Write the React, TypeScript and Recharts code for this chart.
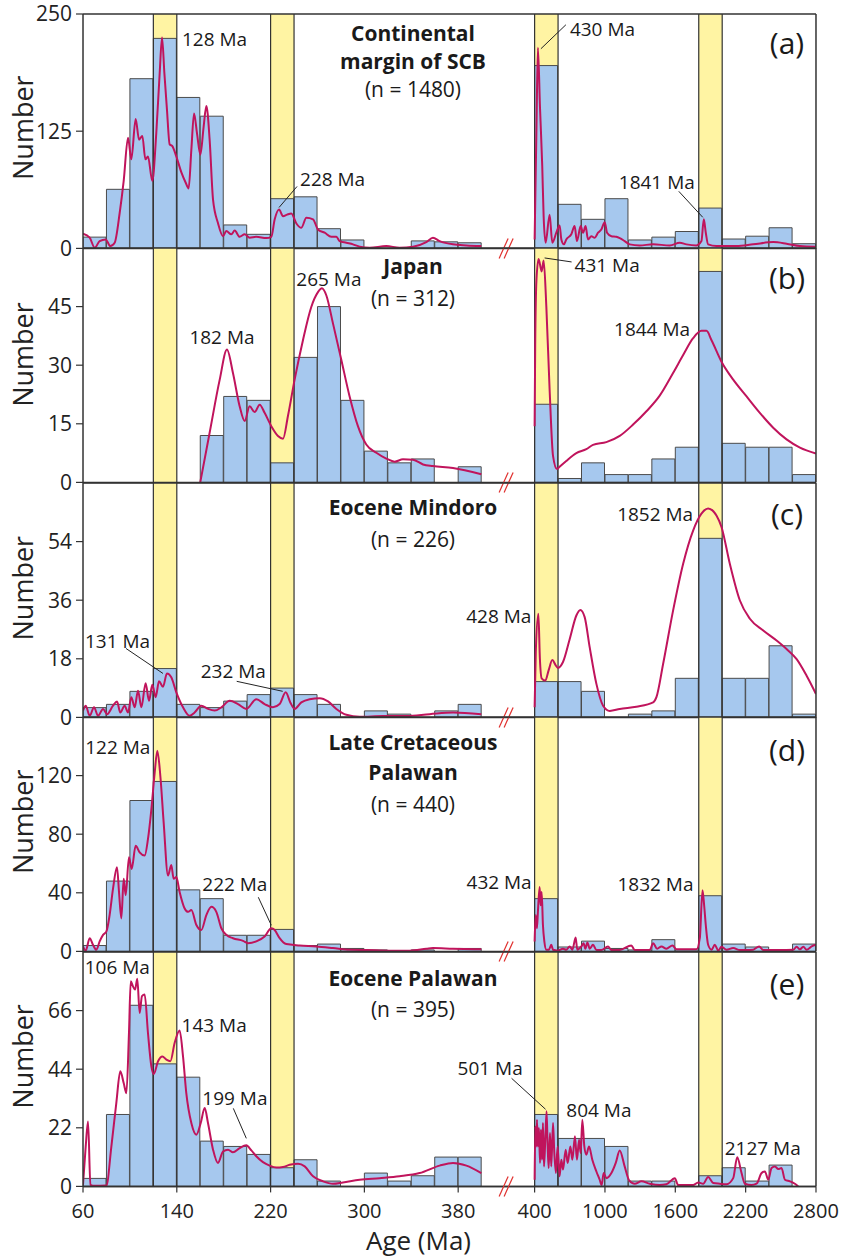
import React from 'react';
import {
  ComposedChart,
  Bar,
  Line,
  XAxis,
  YAxis,
  ReferenceArea,
  ReferenceLine,
  ReferenceDot,
} from 'recharts';

// ---------------- data ----------------
const leftBinStarts = [60, 80, 100, 120, 140, 160, 180, 200, 220, 240, 260, 280, 300, 320, 340, 360, 380];
const leftBinWidth = 20;
const rightBinStarts = [400, 600, 800, 1000, 1200, 1400, 1600, 1800, 2000, 2200, 2400, 2600];
const rightBinWidth = 200;

const xTickAgesLeft = [60, 140, 220, 300, 380];
const xTickAgesRight = [400, 1000, 1600, 2200, 2800];
const xTickLabels = ['60', '140', '220', '300', '380', '400', '1000', '1600', '2200', '2800'];

const highlightLeft = [[120, 140], [220, 240]];
const highlightRight = [[400, 600], [1800, 2000]];

// histogram counts
const countsA_L = [12, 63, 181, 224, 161, 141, 25, 15, 53, 55, 21, 9, 0, 0, 8, 7, 6];
const countsA_R = [195, 47, 31, 53, 9, 12, 18, 43, 10, 13, 22, 5];
const countsB_L = [0, 0, 0, 0, 0, 12, 22, 21, 5, 32, 45, 21, 8, 5, 6, 0, 4];
const countsB_R = [20, 1, 5, 2, 2, 6, 9, 54, 10, 9, 9, 2];
const countsC_L = [3, 4, 8, 15, 4, 3, 5, 7, 9, 7, 4, 0, 2, 1, 0, 2, 4];
const countsC_R = [11, 11, 8, 0, 1, 2, 12, 55, 12, 12, 22, 1];
const countsD_L = [4, 48, 103, 116, 42, 36, 11, 11, 15, 4, 5, 2, 1, 0, 1, 0, 2];
const countsD_R = [36, 3, 7, 2, 1, 8, 1, 38, 5, 3, 1, 5];
const countsE_L = [3, 27, 68, 46, 41, 17, 15, 12, 7, 10, 2, 0, 5, 2, 4, 11, 11];
const countsE_R = [27, 18, 18, 15, 2, 2, 0, 4, 7, 2, 8, 0];

// probability density curves [age, value]
const curveA_L = [[60,15.6],[65.7,11.4],[70,0.7],[74.2,7.8],[79.3,9.6],[83.3,2.5],[87,6],[91.3,38],[94.7,72],[98.4,118],[101.2,95],[104.9,138],[107.8,116],[110.6,120],[113.2,95],[115.4,98],[119.1,72],[122.5,123],[125.4,187],[127.4,225],[129.4,187],[131.6,148],[133.9,111],[136.2,109],[139.6,98],[143.9,81],[147.6,70],[150.1,64],[152.4,105],[154.7,144],[157.2,123],[160.1,100],[162.9,130],[165.2,152],[168,116],[170.9,52],[175.1,27],[179.4,13],[182.2,18.5],[186.5,15],[189.4,19],[193.6,12.4],[197.9,15],[202.1,11.4],[207.8,12.4],[216.4,11],[220.6,12.4],[223.5,31],[227.2,41.5],[230.6,34.4],[234,36],[237.7,37.3],[242,26.6],[246.2,22],[250.5,32.7],[256.2,31],[260.4,20.2],[266.1,16.7],[271.8,12.4],[276.1,12.4],[278.9,7.8],[284.6,6],[290.3,4.3],[296,1.8],[304.5,0.7],[318.7,2.5],[330,0.7],[341.5,1.8],[352.8,6.7],[358.5,11.4],[364.2,7.8],[375.6,4.3],[387,3.2],[399.7,2.5]];
const curveA_R = [[400,9.6],[416,130],[428,214],[446,150],[465,88],[477,34],[494,6],[528,36],[551,6],[585,16.7],[613,24.5],[628,9.6],[650,4.3],[670,9.6],[713,15],[741,23.8],[761,7.8],[793,23.8],[813,16.7],[835,23.8],[855,9.6],[884,13],[912,11.4],[941,16.7],[969,20.2],[998,28],[1018,16.7],[1055,13],[1097,12.4],[1126,11],[1168,7.8],[1211,4.3],[1296,3.2],[1410,4.3],[1553,3.2],[1638,6],[1695,4.3],[1780,3.2],[1823,7.8],[1843,31],[1860,16.7],[1880,4.3],[1951,2.5],[2122,2.5],[2264,4.3],[2435,6.7],[2549,5],[2663,2.5],[2800,1.8]];

const curveB_L = [[160,0],[168,12.7],[176.6,26.3],[182.8,34],[187.9,28],[193.6,19.5],[197.9,15.7],[202.1,19.5],[206.4,18],[210.7,19.9],[214.9,17.8],[220.6,14.4],[226.3,11.9],[230.6,11.2],[234.8,17],[240.5,26.3],[247.6,36.4],[254.7,44.9],[260.4,48.7],[263.8,49.7],[267.5,47.9],[273.2,40.7],[280.3,31.4],[287.4,22],[294.5,14.4],[301.6,9.7],[310.2,7.6],[318.7,6.1],[325.8,5.3],[332.9,5.9],[341.5,5.8],[350,4.6],[358.5,4.2],[375.6,3.7],[399.7,2.1]];
const curveB_R = [[400,14.4],[405,35],[416,52],[434,57.2],[460,54],[477,56.8],[500,45],[528,23.7],[557,6.8],[591,3.4],[613,4],[670,5.5],[756,7.5],[841,8.5],[898,9.6],[1012,10.3],[1126,11.9],[1240,14.8],[1354,18.2],[1467,22.2],[1581,28],[1667,32.6],[1752,36.9],[1823,38.8],[1866,38.8],[1909,36.4],[1994,30.9],[2094,26.3],[2208,22],[2321,17.8],[2435,14],[2549,11],[2663,8.9],[2800,7.4]];

const curveC_L = [[60,2.1],[62.3,3.6],[65.7,0.5],[69.4,3.1],[72.8,0.5],[77.1,2.6],[80.5,1],[85.6,3.6],[89,4.9],[91.8,1.5],[95.5,3.6],[98.4,1.5],[101.2,6.2],[104.1,3.1],[106.9,8.2],[109.8,3.1],[113.4,10.5],[116.3,5.1],[119.1,10],[122,6.2],[124.8,11.1],[128.2,9.4],[131.6,13.5],[135.3,12.3],[139.6,7.7],[145.3,3.1],[150.9,0.5],[155.2,1.5],[160.9,3.6],[166.6,2.6],[172.3,2.1],[178,3.1],[185.1,5.1],[192.2,4.1],[199.3,2.6],[207.8,5.6],[214.9,4.1],[222,3.1],[227.7,4.1],[232.9,7.7],[236.8,4.6],[240.5,2.6],[246.2,4.6],[253.3,5.6],[261.9,5.9],[269,4.9],[276.1,2.6],[284.6,0.8],[296,0.2],[315.9,0.4],[335.8,0.4],[355.7,1],[375.6,1.5],[399.7,1]];
const curveC_R = [[400,3.1],[410,20],[432,31.8],[445,18],[460,12],[491,11.3],[520,14.5],[551,17.6],[580,16],[599,15.2],[642,17],[699,24],[756,31.3],[790,33],[827,30.8],[870,21.5],[927,10.3],[984,3.6],[1041,2],[1126,2.6],[1268,3.3],[1411,4.6],[1439,6.2],[1496,16.4],[1581,32.8],[1667,47.2],[1752,57.4],[1823,62.6],[1880,64.2],[1951,62],[1994,58.5],[2065,47.2],[2151,35.9],[2236,30.3],[2350,26.7],[2464,23.6],[2549,21],[2635,17.9],[2720,12.8],[2800,7.2]];

const curveD_L = [[60,3.4],[62.3,0.5],[65.7,9],[68.5,4.5],[71.4,1.1],[74.2,6.8],[77.1,11.3],[79.9,13.5],[82.7,24.8],[85.6,42.8],[89,57.5],[90.7,40.6],[92.7,22.5],[94.7,49.6],[96.4,38.3],[99.2,64.2],[101.5,56.3],[104.9,72.1],[108.3,67.6],[112.6,65.4],[115.4,76.6],[118.3,96.9],[121.1,121.7],[123.4,137],[126,119.4],[128.8,87.9],[132.5,51.8],[135.3,59],[137.3,49.6],[139.6,50.7],[142.4,40.6],[146.7,29.3],[149.6,27],[152.4,28.2],[156.7,18],[160.9,14.6],[165.2,24.8],[169.5,30.4],[173.7,27],[178,15.8],[182.2,11.3],[187.9,9],[196.5,7.2],[200.7,5.6],[207.8,6.8],[214.9,10.1],[220.6,15.8],[223.5,14.6],[227.7,9],[233.4,5],[244.8,4.1],[259,3.4],[273.2,2.3],[287.4,1.1],[301.6,0.9],[321.5,0.5],[338.6,0.5],[352.8,1.8],[358.5,2.3],[375.6,1.8],[399.7,1.4]];
const curveD_R = [[400,6.8],[409,24.8],[420,15.8],[428,27],[443,44],[451,31.5],[460,40.6],[471,18],[483,6.8],[500,1.1],[522,1.1],[542,4.5],[557,1.1],[599,0.5],[642,1.8],[670,1.1],[699,3.4],[722,1.1],[750,9.5],[764,1.1],[799,3.4],[818,5.6],[833,1.8],[850,6.1],[870,1.8],[898,4.5],[927,0.9],[969,0.9],[1026,3.4],[1055,0.9],[1126,0.9],[1225,4.1],[1254,0.9],[1382,0.9],[1411,5.6],[1445,1.8],[1482,3.4],[1524,1.8],[1576,4.1],[1610,1.4],[1695,1.4],[1781,1.4],[1809,9],[1832,41.7],[1846,31.5],[1860,18],[1880,4.5],[1909,1.1],[1937,4.5],[1966,0.5],[1994,3.2],[2037,1.1],[2094,2.3],[2151,0.9],[2208,0.9],[2264,1.1],[2315,3.4],[2350,0.9],[2492,0.9],[2606,1.1],[2635,3.2],[2663,1.4],[2692,3.2],[2720,1.1],[2763,3.4],[2800,4.5]];

const curveE_L = [[60,0.6],[62.3,15],[64.3,24.4],[66.3,0.6],[70,0.2],[79.9,0.3],[84.2,15],[88.4,31.3],[91.8,43.2],[94.7,38.8],[97,35],[99.2,57.6],[100.7,77],[102.6,75.1],[104.4,73.9],[106.3,78],[108.3,65.1],[110.3,71.4],[112.6,72],[115.4,57.6],[118.3,45.1],[120.3,42.2],[124,47],[127.7,48.8],[131.1,47.6],[134.5,47],[138.2,53.9],[142.4,58.5],[145.3,48.8],[148.1,35],[152.4,23.8],[156.7,19.4],[160.4,23.8],[163.8,29.4],[166.6,23.8],[170.9,13.8],[175.1,8.8],[179.4,13.1],[183.7,13.8],[187.9,12.8],[193.6,14.4],[199.3,15.4],[203.6,13.5],[207.8,11.3],[213.5,9.1],[219.2,7.8],[224.9,7.1],[230.6,7.3],[236.3,8.1],[243.4,8.5],[249.1,7.5],[256.2,3.8],[264.7,1.9],[273.2,1],[281.7,1.5],[296,2.5],[313,3.1],[330,3.8],[347.1,5],[364.2,7.8],[375.6,8.8],[387,7.8],[399.7,5]];
const curveE_R = [[400,2.5],[406,22.5],[414,15],[420,25],[428,15],[437,21.9],[446,8.8],[454,21.3],[463,10],[471,23.8],[480,7.5],[491,17.5],[502,28.2],[511,15],[520,6.9],[531,20],[542,7.5],[557,23.8],[568,12.5],[582,5],[596,15],[613,3.8],[628,10],[642,6.3],[665,13.8],[682,8.8],[705,15],[722,10],[744,18.8],[761,10],[779,17.5],[793,12.5],[807,25],[824,15],[841,11.9],[864,15],[892,10],[927,5.6],[955,2.5],[972,0.5],[989,5],[1012,3.1],[1055,5],[1092,8.8],[1126,13.5],[1168,7.5],[1206,2.3],[1254,1],[1311,1.9],[1382,1],[1467,0.5],[1524,0.8],[1596,3.1],[1624,0.5],[1752,0.5],[1795,1.5],[1838,1],[1880,3.5],[1923,1.3],[1980,1],[2037,0.8],[2094,3.1],[2128,10.9],[2165,5],[2193,1],[2250,0.5],[2293,1],[2336,5],[2364,5.6],[2393,2.5],[2421,6.9],[2450,7.5],[2478,6.5],[2506,6.9],[2535,2.5],[2578,1.9],[2620,1],[2649,0]];

// peak labels (age, value of the peak they point to)
const peaksA = [
  { label: '128 Ma', age: 127.4, value: 225, side: 'L' },
  { label: '228 Ma', age: 227.2, value: 41.5, side: 'L' },
  { label: '430 Ma', age: 428, value: 214, side: 'R' },
  { label: '1841 Ma', age: 1843, value: 31, side: 'R' },
];
const peaksB = [
  { label: '431 Ma', age: 434, value: 57.2, side: 'R' },
  { label: '182 Ma', age: 182.8, value: 34, side: 'L' },
  { label: '265 Ma', age: 263.8, value: 49.7, side: 'L' },
  { label: '1844 Ma', age: 1845, value: 38.8, side: 'R' },
];
const peaksC = [
  { label: '131 Ma', age: 131.6, value: 13.5, side: 'L' },
  { label: '232 Ma', age: 232.9, value: 7.7, side: 'L' },
  { label: '428 Ma', age: 432, value: 31.8, side: 'R' },
  { label: '1852 Ma', age: 1880, value: 64.2, side: 'R' },
];
const peaksD = [
  { label: '122 Ma', age: 123.4, value: 137, side: 'L' },
  { label: '222 Ma', age: 220.6, value: 15.8, side: 'L' },
  { label: '432 Ma', age: 443, value: 44, side: 'R' },
  { label: '1832 Ma', age: 1832, value: 41.7, side: 'R' },
];
const peaksE = [
  { label: '106 Ma', age: 106.3, value: 78, side: 'L' },
  { label: '143 Ma', age: 142.4, value: 58.5, side: 'L' },
  { label: '199 Ma', age: 199.3, value: 15.4, side: 'L' },
  { label: '501 Ma', age: 502, value: 28.2, side: 'R' },
  { label: '804 Ma', age: 807, value: 25, side: 'R' },
  { label: '2127 Ma', age: 2128, value: 10.9, side: 'R' },
];

const titlesA = [['Continental', true], ['margin of SCB', true], ['(n = 1480)', false]];
const titlesB = [['Japan', true], ['(n = 312)', false]];
const titlesC = [['Eocene Mindoro', true], ['(n = 226)', false]];
const titlesD = [['Late Cretaceous', true], ['Palawan', true], ['(n = 440)', false]];
const titlesE = [['Eocene Palawan', true], ['(n = 395)', false]];

// ---------------- layout / style ----------------
const PAGE_W = 848;
const PAGE_H = 1258;
const Y_AXIS_W = 83;
const RIGHT_MARGIN = 32;
const PLOT_TOP = 14;
const PLOT_H = 234.4;
const PAD = 20;

const LEFT_MAX = 400;
const GAP_UNITS = 45.2;
const RIGHT_COMPRESS = 10;
const vL = (a: number) => a;
const vR = (a: number) => LEFT_MAX + GAP_UNITS + (a - 400) / RIGHT_COMPRESS;
const X_MIN = 60;
const X_MAX = vR(2800);
const BREAK_X = LEFT_MAX + GAP_UNITS / 2;

const BAR_FILL = '#A6C8EE';
const BAR_STROKE = '#4A4A4A';
const BAND_FILL = '#FFF4A3';
const CURVE = '#C0145C';
const FRAME = '#333333';
const BREAK = '#E0302E';
const TEXT = '#1A1A1A';
const ANN_FS = 19;

const peakLayoutA = [
  { dx: 20, dy: 2, anchor: 'start' },
  { dx: 21, dy: -30, anchor: 'start', leader: [0, -2, 18, -23] },
  { dx: 32, dy: -19, anchor: 'start', leader: [3, 1, 28, -23] },
  { dx: -9, dy: -37, anchor: 'end', leader: [-1, -2, -25, -28] },
];
const peakLayoutB = [
  { dx: 36, dy: 6, anchor: 'start', leader: [6, -1, 33, 3] },
  { dx: -5, dy: -12, anchor: 'middle' },
  { dx: 7, dy: -9, anchor: 'middle' },
  { dx: -14, dy: -2, anchor: 'end' },
];
const peakLayoutC = [
  { dx: -82, dy: -32, anchor: 'start', leader: [-4, 0, -41, -25] },
  { dx: -85, dy: -21, anchor: 'start', leader: [-3, -1, -49, -11] },
  { dx: -7, dy: 2, anchor: 'end' },
  { dx: -15, dy: 6, anchor: 'end' },
];
const peakLayoutD = [
  { dx: -7, dy: -4, anchor: 'end' },
  { dx: -69, dy: -44, anchor: 'start', leader: [0, -3, -13, -31] },
  { dx: -8, dy: -5, anchor: 'end' },
  { dx: -9, dy: -6, anchor: 'end' },
];
const peakLayoutE = [
  { dx: -20, dy: -11.5, anchor: 'middle' },
  { dx: 2, dy: -5, anchor: 'start' },
  { dx: -44, dy: -47, anchor: 'start', leader: [0, -7, -13, -37] },
  { dx: -89, dy: -43, anchor: 'start', leader: [-1, -2, -35, -33] },
  { dx: -16, dy: -9.5, anchor: 'start' },
  { dx: -12.5, dy: -9, anchor: 'start' },
];

const panels = [
  { letter: '(a)', yMax: 250, yTicks: [0, 125, 250], cL: countsA_L, cR: countsA_R, kL: curveA_L, kR: curveA_R, peaks: peaksA, peakLayout: peakLayoutA, titles: titlesA, titleOffsets: [19.3, 47.7, 75], letterOffset: 29, numberDy: -3.5 },
  { letter: '(b)', yMax: 60, yTicks: [0, 15, 30, 45], cL: countsB_L, cR: countsB_R, kL: curveB_L, kR: curveB_R, peaks: peaksB, peakLayout: peakLayoutB, titles: titlesB, titleOffsets: [18.3, 50.6], letterOffset: 30.6, numberDy: -10.6 },
  { letter: '(c)', yMax: 72, yTicks: [0, 18, 36, 54], cL: countsC_L, cR: countsC_R, kL: curveC_L, kR: curveC_R, peaks: peaksC, peakLayout: peakLayoutC, titles: titlesC, titleOffsets: [24, 56], letterOffset: 31, numberDy: -12 },
  { letter: '(d)', yMax: 160, yTicks: [0, 40, 80, 120], cL: countsD_L, cR: countsD_R, kL: curveD_L, kR: curveD_R, peaks: peaksD, peakLayout: peakLayoutD, titles: titlesD, titleOffsets: [25, 55, 87.5], letterOffset: 33, numberDy: -12.4 },
  { letter: '(e)', yMax: 88, yTicks: [0, 22, 44, 66], cL: countsE_L, cR: countsE_R, kL: curveE_L, kR: curveE_R, peaks: peaksE, peakLayout: peakLayoutE, titles: titlesE, titleOffsets: [26.7, 57], letterOffset: 32.4, numberDy: -12.8 },
];

const xTickValues = [...xTickAgesLeft.map(vL), ...xTickAgesRight.map(vR)];

const breakShape = (p: any) => {
  const { cx, cy } = p;
  return (
    <g stroke={BREAK} strokeWidth={1.2}>
      <line x1={cx - 9} y1={cy + 10} x2={cx} y2={cy - 10} />
      <line x1={cx - 4} y1={cy + 10} x2={cx + 5} y2={cy - 10} />
    </g>
  );
};

const peakShape = (label: string, lay: any) => (p: any) => {
  const { cx, cy } = p;
  return (
    <g>
      {lay.leader ? (
        <line
          x1={cx + lay.leader[0]}
          y1={cy + lay.leader[1]}
          x2={cx + lay.leader[2]}
          y2={cy + lay.leader[3]}
          stroke="#222"
          strokeWidth={1}
        />
      ) : null}
      <text x={cx + lay.dx} y={cy + lay.dy + ANN_FS * 0.36} fontSize={ANN_FS} textAnchor={lay.anchor} fill={TEXT}>
        {label}
      </text>
    </g>
  );
};

const titleShape = (panel: any) => (p: any) => {
  const { cx, cy } = p;
  const fs = 21;
  return (
    <g>
      {panel.titles.map((t: any, i: number) => (
        <text
          key={i}
          x={cx + 330}
          y={cy + panel.titleOffsets[i] + fs * 0.36}
          fontSize={fs}
          fontWeight={t[1] ? 700 : 400}
          textAnchor="middle"
          fill={TEXT}
        >
          {t[0]}
        </text>
      ))}
      <text x={cx + 704} y={cy + panel.letterOffset + 30 * 0.36} fontSize={30} textAnchor="middle" fill={TEXT}>
        {panel.letter}
      </text>
    </g>
  );
};

function Panel({ panel, index }: { panel: any; index: number }) {
  const isLast = index === panels.length - 1;
  const plotTop = PLOT_TOP + index * PLOT_H;
  const axisH = isLast ? 70 : 0;
  const bottomPad = isLast ? PAGE_H - (plotTop + PLOT_H + axisH) : PAD;
  const height = PAD + PLOT_H + axisH + bottomPad;

  const barData = [
    ...leftBinStarts.map((s, i) => ({ x: vL(s + leftBinWidth / 2), n: panel.cL[i] })),
    ...rightBinStarts.map((s, i) => ({ x: vR(s + rightBinWidth / 2), n: panel.cR[i] })),
  ];
  const curveL = panel.kL.map((d: number[]) => ({ x: vL(d[0]), v: d[1] }));
  const curveR = panel.kR.map((d: number[]) => ({ x: vR(d[0]), v: d[1] }));

  const bands = [
    ...highlightLeft.map((b) => [vL(b[0]), vL(b[1])]),
    ...highlightRight.map((b) => [vR(b[0]), vR(b[1])]),
  ];

  return (
    <div style={{ position: 'absolute', left: 0, top: plotTop - PAD, width: PAGE_W, height }}>
      <ComposedChart
        width={PAGE_W}
        height={height}
        data={barData}
        margin={{ top: PAD, right: RIGHT_MARGIN, bottom: bottomPad, left: 0 }}
        barCategoryGap={0}
        barGap={0}
      >
        <XAxis
          xAxisId="bar"
          dataKey="x"
          type="number"
          domain={[X_MIN, X_MAX]}
          allowDataOverflow
          hide={!isLast}
          height={axisH}
          ticks={xTickValues}
          interval={0}
          tickFormatter={(v: number, i: number) => xTickLabels[i]}
          tick={{ fontSize: 20, fill: '#222' }}
          tickSize={6}
          tickMargin={11}
          axisLine={{ stroke: FRAME, strokeWidth: 1.5 }}
          tickLine={{ stroke: FRAME, strokeWidth: 1.2 }}
          label={{ value: 'Age (Ma)', position: 'insideBottom', offset: 6, dx: -31, fontSize: 26, fill: '#222' }}
        />
        <XAxis xAxisId="curve" dataKey="x" type="number" domain={[X_MIN, X_MAX]} allowDataOverflow hide />
        <YAxis
          width={Y_AXIS_W}
          type="number"
          domain={[0, panel.yMax]}
          allowDataOverflow
          ticks={panel.yTicks}
          interval={0}
          tick={{ fontSize: 21, fill: '#222' }}
          tickSize={7}
          tickMargin={4}
          axisLine={{ stroke: FRAME, strokeWidth: 1.5 }}
          tickLine={{ stroke: FRAME, strokeWidth: 1.2 }}
          label={{ value: 'Number', angle: -90, position: 'center', dx: -18.5, dy: panel.numberDy, fontSize: 27, fill: '#222' }}
        />

        {bands.map((b, i) => (
          <ReferenceArea
            key={'band' + i}
            xAxisId="bar"
            x1={b[0]}
            x2={b[1]}
            fill={BAND_FILL}
            fillOpacity={1}
            stroke="none"
            ifOverflow="visible"
          />
        ))}

        <Bar xAxisId="bar" dataKey="n" fill={BAR_FILL} stroke={BAR_STROKE} strokeWidth={1} isAnimationActive={false} />

        {bands.map((b, i) => (
          <ReferenceLine key={'bl' + i} xAxisId="bar" x={b[0]} stroke={FRAME} strokeWidth={1.2} ifOverflow="visible" />
        ))}
        {bands.map((b, i) => (
          <ReferenceLine key={'br' + i} xAxisId="bar" x={b[1]} stroke={FRAME} strokeWidth={1.2} ifOverflow="visible" />
        ))}

        <Line
          xAxisId="curve"
          data={curveL}
          dataKey="v"
          type="monotone"
          stroke={CURVE}
          strokeWidth={2}
          dot={false}
          activeDot={false}
          isAnimationActive={false}
        />
        <Line
          xAxisId="curve"
          data={curveR}
          dataKey="v"
          type="monotone"
          stroke={CURVE}
          strokeWidth={2}
          dot={false}
          activeDot={false}
          isAnimationActive={false}
        />

        <ReferenceLine xAxisId="bar" x={X_MAX} stroke={FRAME} strokeWidth={1.5} ifOverflow="visible" />
        <ReferenceLine xAxisId="bar" y={0} stroke={FRAME} strokeWidth={1.5} ifOverflow="visible" />
        <ReferenceLine xAxisId="bar" y={panel.yMax} stroke={FRAME} strokeWidth={1.5} ifOverflow="visible" />

        <ReferenceDot xAxisId="bar" x={BREAK_X} y={0} r={0} ifOverflow="visible" shape={breakShape} />

        {panel.peaks.map((pk: any, i: number) => (
          <ReferenceDot
            key={'pk' + i}
            xAxisId="bar"
            x={pk.side === 'L' ? vL(pk.age) : vR(pk.age)}
            y={pk.value}
            r={0}
            ifOverflow="visible"
            shape={peakShape(pk.label, panel.peakLayout[i])}
          />
        ))}

        <ReferenceDot xAxisId="bar" x={X_MIN} y={panel.yMax} r={0} ifOverflow="visible" shape={titleShape(panel)} />
      </ComposedChart>
    </div>
  );
}

export default function App() {
  return (
    <div
      style={{
        position: 'absolute',
        left: 0,
        top: 0,
        width: PAGE_W,
        height: PAGE_H,
        background: '#ffffff',
        fontFamily: "'Open Sans', sans-serif",
        overflow: 'hidden',
      }}
    >
      {panels.map((p, i) => (
        <Panel key={p.letter} panel={p} index={i} />
      ))}
    </div>
  );
}
